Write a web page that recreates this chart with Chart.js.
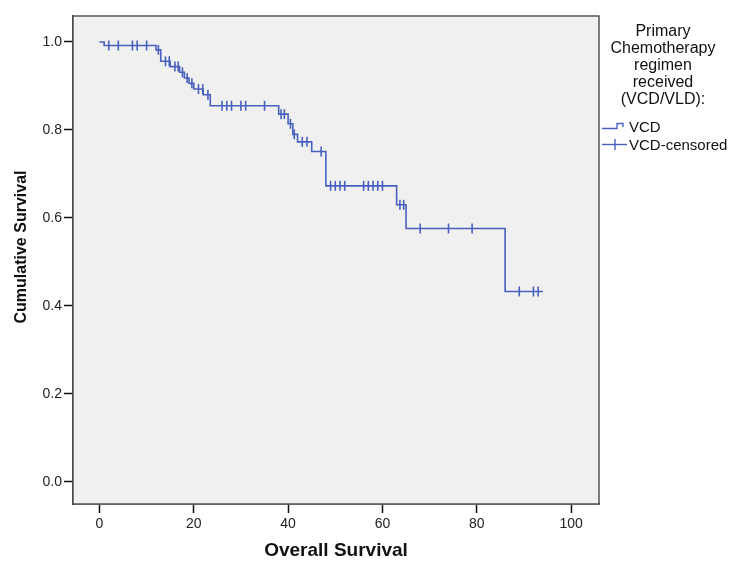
<!DOCTYPE html>
<html>
<head>
<meta charset="utf-8">
<script src="https://cdn.jsdelivr.net/npm/chart.js@4"></script>
<style>
  body { margin: 0; background: #fff; font-family: "Liberation Sans", Arial, sans-serif; }
  #wrap { position: relative; width: 750px; height: 573px; }
  #legend { position: absolute; left: 600px; top: 22px; width: 126px; color: #111; }
  #legend .title { font-size: 16px; line-height: 17px; text-align: center; }
  #legend .item { position: absolute; left: 2px; font-size: 15px; white-space: nowrap; }
  #legend .item svg { position: absolute; left: 0; top: 0; }
  #legend .item span { position: absolute; left: 27px; top: 0; line-height: 18px; }
</style>
</head>
<body>
<div id="wrap">
  <canvas id="c" width="750" height="573"></canvas>
  <div id="legend">
    <div class="title">Primary<br>Chemotherapy<br>regimen<br>received<br>(VCD/VLD):</div>
    <div class="item" style="top:96px">
      <svg width="26" height="18"><polyline points="0,10.5 15,10.5 15,5.5 21,5.5 21,9" fill="none" stroke="#4a60bf" stroke-width="1.4"/></svg>
      <span>VCD</span>
    </div>
    <div class="item" style="top:114px">
      <svg width="26" height="18"><line x1="0" y1="8.5" x2="25" y2="8.5" stroke="#4a60bf" stroke-width="1.4"/><line x1="13" y1="3" x2="13" y2="14" stroke="#4a60bf" stroke-width="1.4"/></svg>
      <span>VCD-censored</span>
    </div>
  </div>
</div>
<script>
// ── Data ──────────────────────────────────────────────────────────────────────
const stepTimes = [0, 1, 12, 13, 15, 17, 18, 19, 20, 22, 23.5, 38, 40, 41, 42, 45, 48, 63, 65, 86, 94];
const stepSurv  = [1.000, 0.992, 0.982, 0.956, 0.944, 0.931, 0.918, 0.906, 0.893, 0.880, 0.855,
                   0.836, 0.814, 0.790, 0.773, 0.751, 0.673, 0.630, 0.576, 0.433, 0.433];

const censorTimes = [2, 4, 7, 8, 10, 12.5, 14, 14.8, 16, 16.7, 17.6, 18.6, 19.6, 21, 21.9, 23,
                     26, 27, 28, 30, 31, 35, 38.5, 39.2, 40.5, 41.3, 43, 44, 47,
                     49, 50, 51, 52, 56, 57, 58, 59, 60, 63.7, 64.5, 68, 74, 79, 89, 92, 93];
const censorSurv  = [0.992, 0.992, 0.992, 0.992, 0.992, 0.982, 0.956, 0.956, 0.944, 0.944, 0.931, 0.918, 0.906, 0.893, 0.893, 0.880,
                     0.855, 0.855, 0.855, 0.855, 0.855, 0.855, 0.836, 0.836, 0.814, 0.790, 0.773, 0.773, 0.751,
                     0.673, 0.673, 0.673, 0.673, 0.673, 0.673, 0.673, 0.673, 0.673, 0.630, 0.630, 0.576, 0.576, 0.576, 0.433, 0.433, 0.433];

const xTicks = [0, 20, 40, 60, 80, 100];
const yTicks = [0.0, 0.2, 0.4, 0.6, 0.8, 1.0];

const xTitle = "Overall Survival";
const yTitle = "Cumulative Survival";

const lineColor = "#4a60bf";
const fontFamily = "'Liberation Sans', Arial, sans-serif";

// ── Plot background, frame and y title ────────────────────────────────────────
const framePlugin = {
  id: "frame",
  beforeDatasetsDraw(chart) {
    const a = chart.chartArea, ctx = chart.ctx;
    ctx.save();
    ctx.fillStyle = "#f0f0f0";
    ctx.fillRect(a.left, a.top, a.right - a.left, a.bottom - a.top);
    ctx.restore();
  },
  afterDraw(chart) {
    const a = chart.chartArea, ctx = chart.ctx;
    ctx.save();
    ctx.strokeStyle = "#555";
    ctx.lineWidth = 1.5;
    ctx.strokeRect(a.left, a.top, a.right - a.left, a.bottom - a.top);
    // y title sits a bit above the middle of the plot, like the original
    ctx.translate(22, 247);
    ctx.rotate(-Math.PI / 2);
    ctx.fillStyle = "#111";
    ctx.font = "bold 16px " + fontFamily;
    ctx.textAlign = "center";
    ctx.textBaseline = "middle";
    ctx.fillText(yTitle, 0, 0);
    ctx.restore();
  }
};

const font = { family: fontFamily };

new Chart(document.getElementById("c"), {
  type: "scatter",
  data: {
    datasets: [
      {
        label: "VCD",
        type: "line",
        data: stepTimes.map((t, i) => ({ x: t, y: stepSurv[i] })),
        stepped: true,
        borderColor: lineColor,
        borderWidth: 1.6,
        pointRadius: 0,
        fill: false,
      },
      {
        label: "VCD-censored",
        data: censorTimes.map((t, i) => ({ x: t, y: censorSurv[i] })),
        pointStyle: "line",
        rotation: 90,
        pointRadius: 5,
        borderColor: lineColor,
        pointBorderWidth: 1.6,
      },
    ],
  },
  options: {
    responsive: false,
    animation: false,
    layout: { padding: { left: 0, right: 151, top: 16, bottom: 0 } },
    plugins: { legend: { display: false }, tooltip: { enabled: false } },
    scales: {
      x: {
        type: "linear",
        min: -5.6,
        max: 105.9,
        afterBuildTicks: s => { s.ticks = xTicks.map(v => ({ value: v })); },
        afterFit: s => { s.height = 69; },
        grid: { drawOnChartArea: false, drawTicks: true, tickLength: 9, tickColor: "#111", tickWidth: 1.5 },
        border: { display: true, color: "#222", width: 1.5 },
        ticks: { color: "#222", font: { ...font, size: 14 }, padding: 3, callback: v => v },
        title: { display: true, text: xTitle, color: "#111",
                 font: { ...font, size: 19, weight: "bold" }, padding: { top: 0, bottom: 11 } },
      },
      y: {
        type: "linear",
        min: -0.05,
        max: 1.059,
        afterBuildTicks: s => { s.ticks = yTicks.map(v => ({ value: v })); },
        afterFit: s => { s.width = 73; },
        grid: { drawOnChartArea: false, drawTicks: true, tickLength: 9, tickColor: "#111", tickWidth: 1.5 },
        border: { display: true, color: "#222", width: 1.5 },
        ticks: { color: "#222", font: { ...font, size: 14 }, padding: 2, callback: v => v.toFixed(1) },
        title: { display: false },
      },
    },
  },
  plugins: [framePlugin],
});
</script>
</body>
</html>
